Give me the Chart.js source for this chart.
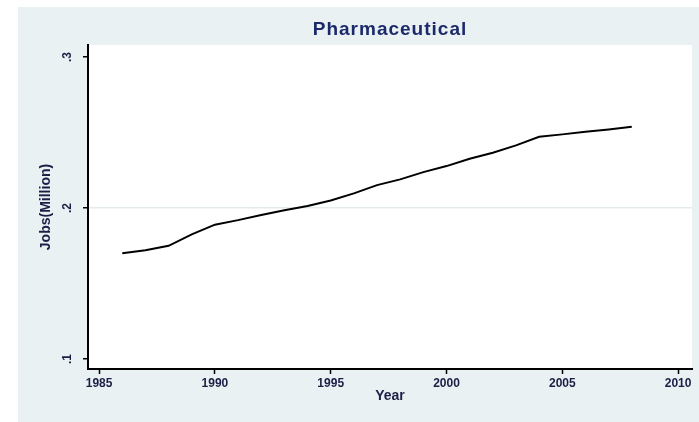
<!DOCTYPE html>
<html>
<head>
<meta charset="utf-8">
<script src="https://cdn.jsdelivr.net/npm/chart.js@4.4.1/dist/chart.umd.min.js"></script>
<style>
  html, body { margin: 0; padding: 0; background: #ffffff; }
  #chart { display: block; }
</style>
</head>
<body>
<canvas id="chart" width="699" height="422"></canvas>
<script>
"use strict";

// values
const years = [1986, 1987, 1988, 1989, 1990, 1991, 1992, 1993, 1994, 1995, 1996,
               1997, 1998, 1999, 2000, 2001, 2002, 2003, 2004, 2005, 2006, 2007, 2008];
const jobs = [0.170, 0.172, 0.175, 0.1826, 0.189, 0.192, 0.1954, 0.1985, 0.2013, 0.205, 0.2097,
              0.2152, 0.219, 0.2238, 0.2278, 0.2327, 0.2366, 0.2415, 0.2472, 0.2488, 0.2505, 0.2521, 0.2538];
const xTicks = [1985, 1990, 1995, 2000, 2005, 2010];
const yTicks = [0.1, 0.2, 0.3];
const yTickLabels = [".1", ".2", ".3"];
const chartTitle = "Pharmaceutical";

const bgColor = "#e9f1f3";
const textColor = "#1b1f45";

// light panel behind the whole graph, white inside the plot region
const backdrop = {
    id: "backdrop",
    beforeDraw: (chart) => {
        const ctx = chart.ctx;
        const a = chart.chartArea;
        ctx.save();
        ctx.fillStyle = bgColor;
        ctx.fillRect(18, 7, chart.width - 18, chart.height - 7);
        ctx.fillStyle = "#ffffff";
        ctx.fillRect(a.left, a.top, a.right - a.left, a.bottom - a.top);
        ctx.restore();
    },
    // title centred over the plot region, like Stata does
    afterDraw: (chart) => {
        const ctx = chart.ctx;
        const a = chart.chartArea;
        ctx.save();
        ctx.fillStyle = "#1c2a6b";
        ctx.font = "bold 19px 'Liberation Sans'";
        ctx.letterSpacing = "1px";
        ctx.textAlign = "center";
        ctx.textBaseline = "middle";
        ctx.fillText(chartTitle, (a.left + a.right) / 2, 30);
        ctx.restore();
    }
};

const ctx = document.getElementById("chart");

new Chart(ctx, {
    type: "line",
    data: {
        datasets: [{
            label: chartTitle,
            data: years.map((y, i) => ({ x: y, y: jobs[i] })),
            borderColor: "#000000",
            borderWidth: 2,
            pointRadius: 0,
            tension: 0,
            fill: false
        }]
    },
    options: {
        responsive: false,
        animation: false,
        layout: { padding: { left: 18, right: 7, top: 45, bottom: 0 } },
        plugins: {
            legend: { display: false },
            tooltip: { enabled: false },
            title: { display: false }
        },
        scales: {
            x: {
                type: "linear",
                min: 1984.52,
                max: 2010.6,
                afterBuildTicks: (scale) => { scale.ticks = xTicks.map(v => ({ value: v })); },
                afterFit: (scale) => {
                    scale.height = 53;
                    scale.paddingLeft = 0;
                    scale.paddingRight = 0;
                },
                grid: { display: true, drawOnChartArea: false, tickLength: 5, tickColor: "#000000", tickWidth: 1.5 },
                border: { display: true, color: "#000000", width: 2 },
                ticks: {
                    color: textColor,
                    padding: 2,
                    maxRotation: 0,
                    font: { family: "Liberation Sans", size: 12, weight: "bold" },
                    callback: (v) => String(v)
                },
                title: {
                    display: true,
                    text: "Year",
                    color: textColor,
                    font: { family: "Liberation Sans", size: 14, weight: "bold" },
                    padding: { top: 0, bottom: 17 }
                }
            },
            y: {
                type: "linear",
                min: 0.0934,
                max: 0.308,
                afterBuildTicks: (scale) => { scale.ticks = yTicks.map(v => ({ value: v })); },
                afterFit: (scale) => {
                    scale.width = 70;
                    scale.paddingTop = 0;
                    scale.paddingBottom = 0;
                },
                grid: {
                    color: (c) => (c.tick && Math.abs(c.tick.value - 0.2) < 1e-6) ? "#e4eced" : "rgba(0,0,0,0)",
                    lineWidth: 1.5,
                    tickLength: 5,
                    tickColor: "#000000",
                    tickWidth: 1.5
                },
                border: { display: true, color: "#000000", width: 2 },
                ticks: {
                    color: textColor,
                    padding: 10,
                    minRotation: 90,
                    maxRotation: 90,
                    crossAlign: "center",
                    font: { family: "Liberation Sans", size: 12, weight: "bold" },
                    callback: (v) => {
                        const i = yTicks.findIndex(t => Math.abs(t - v) < 1e-6);
                        return i >= 0 ? yTickLabels[i] : "";
                    }
                },
                title: {
                    display: true,
                    text: "Jobs(Million)",
                    color: textColor,
                    font: { family: "Liberation Sans", size: 14, weight: "bold" },
                    padding: { top: 20, bottom: 0 }
                }
            }
        }
    },
    plugins: [backdrop]
});
</script>
</body>
</html>
